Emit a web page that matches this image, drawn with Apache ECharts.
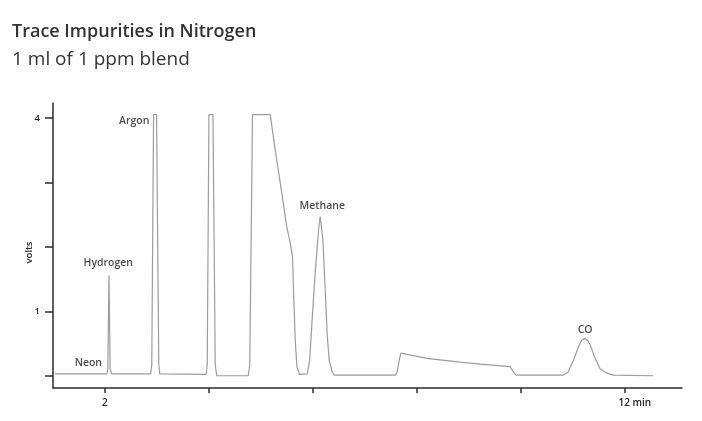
<!DOCTYPE html>
<html>
<head>
<meta charset="utf-8">
<script src="https://cdn.jsdelivr.net/npm/echarts@6/dist/echarts.min.js"></script>
<style>
html,body{margin:0;padding:0;background:#fff;}
#chart{width:702px;height:421px;}
</style>
</head>
<body>
<div id="chart"></div>
<script>
// Chromatogram trace: retention time (min) and detector signal (volts)
var traceTime = [1.04, 2.035, 2.055, 2.077, 2.10, 2.13,
  2.88, 2.90, 2.935, 2.992, 3.035, 3.054,
  3.948, 3.967, 4.00, 4.077, 4.121, 4.15,
  4.756, 4.785, 4.838, 5.179, 5.275, 5.40, 5.497, 5.563, 5.608, 5.627, 5.66, 5.692, 5.742,
  5.89, 5.938, 5.981, 6.044, 6.108, 6.14, 6.192, 6.237, 6.275, 6.313, 6.371, 6.41,
  7.583, 7.621, 7.66, 7.692, 8.192, 8.833, 9.217, 9.794, 9.832, 9.871, 9.91,
  10.819, 10.91, 11.012, 11.108, 11.169, 11.237, 11.294, 11.333, 11.429, 11.525, 11.654, 11.781, 12.55];
var traceVolts = [0.03, 0.03, 0.10, 1.56, 0.10, 0.03,
  0.03, 0.17, 4.05, 4.05, 0.17, 0.03,
  0.02, 0.17, 4.05, 4.05, 0.17, 0.00,
  0.00, 0.17, 4.05, 4.05, 3.50, 2.84, 2.31, 2.06, 1.85, 1.33, 0.55, 0.14, 0.02,
  0.03, 0.24, 0.82, 1.60, 2.26, 2.47, 2.11, 1.33, 0.63, 0.24, 0.06, 0.01,
  0.01, 0.06, 0.24, 0.35, 0.27, 0.21, 0.18, 0.14, 0.12, 0.04, 0.01,
  0.01, 0.06, 0.24, 0.45, 0.55, 0.58, 0.54, 0.48, 0.27, 0.11, 0.04, 0.01, 0.00];

// Peak annotations
var peakNames = ['Neon', 'Hydrogen', 'Argon', 'Methane', 'CO'];
var peakLabelTime = [1.68, 2.063, 2.563, 6.18, 11.237];
var peakLabelVolts = [0.20, 1.75, 3.95, 2.64, 0.71];

// Axis ticks and labels
var xTickValues = [2, 4, 6, 8, 10, 12];
var xLabelValues = [2, 12];
var yTickValues = [0, 1, 2, 3, 4];
var yLabelValues = [1, 4];

var traceData = traceTime.map(function (t, i) { return [t, traceVolts[i]]; });
var labelData = peakNames.map(function (n, i) { return { name: n, value: [peakLabelTime[i], peakLabelVolts[i]] }; });

var chart = echarts.init(document.getElementById('chart'), null, { renderer: 'canvas' });
var axisColor = '#2b2b2b';

chart.setOption({
  animation: false,
  backgroundColor: '#fff',
  title: {
    text: 'Trace Impurities in Nitrogen',
    subtext: '1 ml of 1 ppm blend',
    left: 7,
    top: 18,
    itemGap: 9,
    textStyle: { fontFamily: 'Open Sans', fontSize: 18, fontWeight: 600, color: '#333' },
    subtextStyle: { fontFamily: 'Open Sans', fontSize: 19, fontWeight: 400, color: '#333' }
  },
  grid: { left: 53, right: 20, top: 103, bottom: 33, containLabel: false },
  xAxis: {
    type: 'value',
    min: 1,
    max: 13.1,
    axisLine: { show: true, onZero: false, lineStyle: { color: axisColor, width: 1.5 } },
    axisTick: { show: true, customValues: xTickValues, length: 5, lineStyle: { color: axisColor, width: 1.5 } },
    axisLabel: {
      customValues: xLabelValues,
      margin: 10,
      fontFamily: 'Open Sans', fontSize: 10, fontWeight: 600, color: '#222',
      formatter: function (v) { return v === 12 ? '{p|12 min}' : String(v); },
      rich: { p: { fontFamily: 'Open Sans', fontSize: 10, fontWeight: 600, color: '#222', padding: [0, 0, 0, 20] } }
    },
    splitLine: { show: false }
  },
  yAxis: {
    type: 'value',
    min: -0.19,
    max: 4.23,
    name: 'volts',
    nameLocation: 'middle',
    nameGap: 19,
    nameMoveOverlap: false,
    nameTextStyle: { fontFamily: 'Open Sans', fontSize: 9.5, fontWeight: 600, color: '#222', padding: [0, 14, 0, 0] },
    axisLine: { show: true, onZero: false, lineStyle: { color: axisColor, width: 1.5 } },
    axisTick: { show: true, customValues: yTickValues, length: 8, lineStyle: { color: axisColor, width: 1.5 } },
    axisLabel: {
      customValues: yLabelValues,
      margin: 13,
      fontFamily: 'Open Sans', fontSize: 9.5, fontWeight: 600, color: '#222'
    },
    splitLine: { show: false }
  },
  series: [
    {
      type: 'line',
      data: traceData,
      showSymbol: false,
      smooth: false,
      lineStyle: { color: '#9c9c9c', width: 1.2 },
      z: 2
    },
    {
      type: 'scatter',
      data: labelData,
      symbolSize: 0,
      silent: true,
      label: {
        show: true,
        position: 'inside',
        formatter: '{b}',
        fontFamily: 'Open Sans', fontSize: 10.5, fontWeight: 600, color: '#1a1a1a'
      },
      z: 3
    }
  ]
});
</script>
</body>
</html>
